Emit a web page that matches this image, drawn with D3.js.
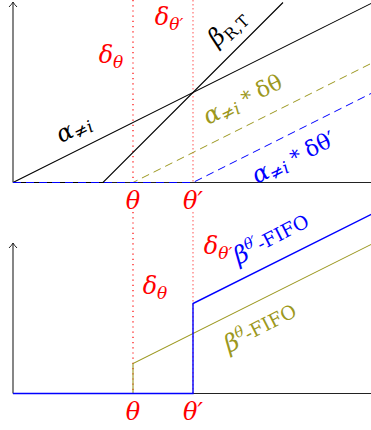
<!DOCTYPE html>
<html>
<head>
<meta charset="utf-8">
<script src="https://cdn.jsdelivr.net/npm/d3@7"></script>
<style>
  html, body { margin: 0; padding: 0; background: #fff; }
  svg { display: block; }
</style>
</head>
<body>
<svg id="chart" width="371" height="430"></svg>
<script>
// Arrival times of the two packets and their labels
const markers = [2, 3];
const markerLabels = ["θ", "θ′"];

// Upper panel: arrival curve, rate-latency service curve, shifted arrival curves
const alphaCurve = [[0, 0], [6, 6]];
const betaRT = [[0, 0], [1.5, 0], [4.5, 6]];
const alphaShiftTheta = [[0, 0], [2, 0], [6, 4]];
const alphaShiftThetaP = [[0, 0], [3, 0], [6, 3]];

// Lower panel: FIFO residual service curves
const betaFifoTheta = [[0, 0], [2, 0], [2, 1], [6, 5]];
const betaFifoThetaP = [[0, 0], [3, 0], [3, 3], [6, 6]];

const RED = "#ff0000", BLUE = "#0000ff", OLIVE = "#9c9820", BLACK = "#000";
const FONT = "'DejaVu Serif', serif";

const svg = d3.select("#chart");

const x = d3.scaleLinear().domain([0, 6]).range([13, 373]);
const yTop = d3.scaleLinear().domain([0, 6]).range([182.5, 2.5]);
const yBot = d3.scaleLinear().domain([0, 6]).range([393.5, 213.5]);

function axes(y, topPx) {
  const g = svg.append("g");
  const x0 = x(0), y0 = y(0);
  g.append("line").attr("x1", x0).attr("y1", y0).attr("x2", 371).attr("y2", y0)
    .attr("stroke", "#222").attr("stroke-width", 1.1);
  g.append("line").attr("x1", x0).attr("y1", y0).attr("x2", x0).attr("y2", topPx)
    .attr("stroke", "#222").attr("stroke-width", 1.1);
  g.append("path")
    .attr("d", `M${x0 - 4},${topPx + 5} Q${x0 - 1},${topPx + 2} ${x0},${topPx} Q${x0 + 1},${topPx + 2} ${x0 + 4},${topPx + 5}`)
    .attr("fill", "none").attr("stroke", "#222").attr("stroke-width", 1);
}

function curve(data, y, color, dash, width) {
  svg.append("path")
    .datum(data)
    .attr("d", d3.line().x(d => x(d[0])).y(d => y(d[1])))
    .attr("fill", "none")
    .attr("stroke", color)
    .attr("stroke-width", width || 1)
    .attr("stroke-dasharray", dash || null);
}

// Vertical dotted guides at the arrival times
function guides(y1, y2) {
  markers.forEach((m, i) => {
    svg.append("line")
      .attr("x1", x(m)).attr("x2", x(m)).attr("y1", y1).attr("y2", y2)
      .attr("stroke", i === 0 ? RED : "#ff7070")
      .attr("stroke-width", 1.2)
      .attr("stroke-dasharray", i === 0 ? "1.2,4" : "1.5,2.5");
  });
}

// Math label built from tspans: parts = [{t, size, dy, italic}]
function label(cx, cy, angle, color, parts) {
  const t = svg.append("text")
    .attr("transform", `translate(${cx},${cy}) rotate(${angle})`)
    .attr("text-anchor", "middle")
    .attr("font-family", FONT)
    .attr("fill", color);
  parts.forEach(p => {
    t.append("tspan")
      .attr("font-size", p.size)
      .attr("dy", p.dy || 0)
      .attr("font-style", p.italic ? "italic" : "normal")
      .text(p.t);
  });
  return t;
}

// ---------- upper panel ----------
guides(0, yTop(0));
axes(yTop, 2);
curve(alphaCurve, yTop, BLACK, null, 1.1);
curve(betaRT, yTop, BLACK, null, 1.1);
curve(alphaShiftTheta, yTop, OLIVE, "8,5");
curve(alphaShiftThetaP, yTop, BLUE, "8,5");

markers.forEach((m, i) => {
  label(x(m), 209, 0, RED, [{t: markerLabels[i], size: 24, italic: true}]);
});

label(111, 63, 0, RED, [{t: "δ", size: 24, italic: true}, {t: "θ", size: 17, dy: 5, italic: true}]);
label(169, 25, 0, RED, [{t: "δ", size: 24, italic: true}, {t: "θ′", size: 17, dy: 5, italic: true}]);
label(232, 33, -44, BLACK, [{t: "β", size: 24, italic: true}, {t: "R,T", size: 16, dy: 5}]);
label(77, 135, -27, BLACK, [{t: "α", size: 24, italic: true}, {t: "≠", size: 17, dy: 4}, {t: "i", size: 17, italic: true}]);
label(246, 106, -26.5, OLIVE, [{t: "α", size: 24, italic: true}, {t: "≠", size: 17, dy: 4}, {t: "i", size: 17, italic: true}, {t: " * ", size: 20, dy: -4}, {t: "δθ", size: 22}]);
label(297, 164, -26.5, BLUE, [{t: "α", size: 24, italic: true}, {t: "≠", size: 17, dy: 4}, {t: "i", size: 17, italic: true}, {t: " * ", size: 20, dy: -4}, {t: "δθ′", size: 22}]);

// ---------- lower panel ----------
guides(212, yBot(0));
axes(yBot, 243);
curve(betaFifoTheta, yBot, OLIVE, null, 1.1);
curve(betaFifoThetaP, yBot, BLUE, null, 1.4);

markers.forEach((m, i) => {
  label(x(m), 420, 0, RED, [{t: markerLabels[i], size: 24, italic: true}]);
});

label(155, 294, 0, RED, [{t: "δ", size: 24, italic: true}, {t: "θ", size: 17, dy: 5, italic: true}]);
label(218, 254, 0, RED, [{t: "δ", size: 24, italic: true}, {t: "θ′", size: 17, dy: 5, italic: true}]);
label(275, 246, -27, BLUE, [{t: "β", size: 24, italic: true}, {t: "θ′", size: 15, dy: -9, italic: true}, {t: "-FIFO", size: 19, dy: 7}]);
label(264, 335, -27, OLIVE, [{t: "β", size: 24, italic: true}, {t: "θ", size: 15, dy: -9, italic: true}, {t: "-FIFO", size: 19, dy: 7}]);
</script>
</body>
</html>
